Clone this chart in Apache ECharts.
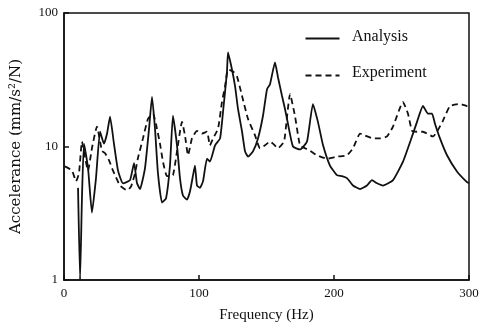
<!DOCTYPE html>
<html>
<head>
<meta charset="utf-8">
<script src="https://cdn.jsdelivr.net/npm/echarts@6/dist/echarts.min.js"></script>
<style>
html,body{margin:0;padding:0;background:#fff;}
#chart{width:484px;height:328px;}
</style>
</head>
<body>
<div id="chart"></div>
<script>
// Analysis (solid)
const analysisFreq = [10.4, 11.9, 13.3, 14.8, 17.8, 20.7, 23.7, 26.7, 29.6, 31.9, 34.1, 37, 40, 43.7, 48.9, 51.9, 54.1, 56.3, 60, 63, 65.2, 67.4, 69.6, 72.6, 75.6, 78.5, 80.7, 83.7, 85.9, 88.1, 91.1, 93.3, 95.6, 97, 98.5, 100.7, 103, 105.9, 108.1, 111.9, 115.6, 117.8, 120.7, 121.5, 124.4, 126.7, 128.9, 131.9, 134.1, 136.3, 140, 143.7, 147.4, 150.4, 152.6, 156.3, 158.5, 161.5, 163.7, 165.9, 169.6, 174.8, 180, 184.4, 188.1, 191.9, 197, 202.2, 205.9, 209.6, 214.1, 219.3, 224.4, 228.1, 231.9, 236.3, 243.7, 251.1, 257.8, 261.5, 265.9, 269.6, 272.6, 274.8, 278.5, 283.7, 291.1, 298.5, 300];
const analysisAcc = [4.9, 1.0, 4.1, 10.5, 6.9, 3.2, 5.8, 12.9, 10.5, 12.5, 16.7, 10.5, 6.6, 5.3, 5.6, 7.5, 5.3, 4.8, 6.9, 13.6, 23.5, 13.6, 6.3, 3.8, 4.1, 7.2, 17, 10.2, 5.8, 4.3, 4.0, 4.6, 6.1, 7.2, 5.1, 4.9, 5.5, 8.1, 7.7, 10.2, 11.5, 18.2, 36, 50.6, 37.8, 28.3, 19.1, 12.9, 9.2, 8.4, 9.2, 11.5, 17, 26.9, 29.3, 42.6, 33, 23.9, 19.1, 14.8, 10, 9.5, 10.9, 20.8, 15.3, 10.2, 7.2, 6.1, 6.0, 5.8, 5.1, 4.8, 5.1, 5.6, 5.3, 5.1, 5.6, 7.7, 11.9, 15.3, 20.1, 17.6, 17.6, 14.8, 11.5, 8.6, 6.5, 5.4, 5.3];

// Experiment (dashed)
const experimentFreq = [0.7, 5.9, 8.9, 11.1, 13.3, 15.6, 17.8, 20.7, 24.4, 28.1, 30.4, 33.3, 36.3, 41.5, 46.7, 49.6, 52.6, 54.8, 58.5, 62.2, 65.9, 68.1, 71.1, 73.3, 76.3, 80.7, 83.7, 87.4, 89.6, 91.9, 94.8, 98.5, 102.2, 105.9, 108.1, 110.4, 114.1, 117, 119.3, 121.5, 125.2, 128.1, 131.9, 136.3, 141.5, 145.2, 148.9, 152.6, 154.8, 158.5, 163, 165.2, 167.4, 171.1, 174.8, 178.5, 182.2, 187.4, 194.8, 202.2, 209.6, 214.1, 219.3, 223, 228.9, 234.1, 239.3, 243.7, 251.1, 254.8, 257.8, 261.5, 265.9, 273.3, 276.3, 280.7, 285.9, 293.3, 298.5, 300];
const experimentAcc = [7.1, 6.6, 5.5, 6.3, 10.9, 8.2, 6.6, 9.7, 14.1, 9.3, 8.9, 7.9, 6.6, 5.1, 4.7, 5.0, 6.3, 8.2, 11.5, 16.1, 17.6, 14.8, 10.5, 7.7, 6.0, 6.1, 9.2, 15.3, 12.1, 8.6, 11.5, 13.1, 12.5, 12.9, 10.2, 11.5, 13.6, 21.5, 28.3, 37.8, 36.5, 33.6, 23.9, 16.1, 12.1, 9.7, 10.2, 10.9, 10.5, 9.7, 10.9, 16.7, 24.7, 16.9, 10.2, 9.7, 9.3, 8.6, 8.1, 8.4, 8.6, 9.7, 12.5, 12.1, 11.5, 11.5, 11.9, 14.1, 21.5, 17.6, 13.1, 12.9, 12.9, 11.9, 12.9, 15.6, 20.1, 20.8, 20.1, 20];

const xTicks = [0, 100, 200, 300];
const yTicks = [1, 10, 100];
const seriesNames = ['Analysis', 'Experiment'];

const pairs = (xs, ys) => xs.map((x, i) => [x, ys[i]]);
const FONT = 'Liberation Serif';
const INK = '#111';

const chart = echarts.init(document.getElementById('chart'), null, {renderer: 'canvas'});
chart.setOption({
  animation: false,
  backgroundColor: '#fff',
  textStyle: {fontFamily: FONT, color: INK},
  grid: {left: 64, right: 15, top: 13, bottom: 45, show: true, borderColor: INK, borderWidth: 1.5, backgroundColor: 'transparent'},
  graphic: [
    {type: 'line', left: 303, top: 36, shape: {x1: 0, y1: 0, x2: 34, y2: 0}, style: {stroke: INK, lineWidth: 1.8}},
    {type: 'text', left: 352, top: 29, style: {text: seriesNames[0], font: '16px "Liberation Serif"', fill: INK}},
    {type: 'line', left: 303, top: 73, shape: {x1: 0, y1: 0, x2: 34, y2: 0}, style: {stroke: INK, lineWidth: 1.8, lineDash: [6, 4]}},
    {type: 'text', left: 352, top: 65, style: {text: seriesNames[1], font: '16px "Liberation Serif"', fill: INK}}
  ],
  xAxis: {
    type: 'value', min: xTicks[0], max: xTicks[xTicks.length - 1], interval: 100,
    name: 'Frequency (Hz)', nameLocation: 'middle', nameGap: 28,
    nameTextStyle: {fontFamily: FONT, fontSize: 15, color: INK},
    axisLine: {lineStyle: {color: INK, width: 1.5}},
    axisTick: {inside: true, length: 5, lineStyle: {color: INK, width: 1.5}},
    axisLabel: {fontFamily: FONT, fontSize: 13, color: INK, margin: 7},
    splitLine: {show: false}
  },
  yAxis: {
    type: 'log', logBase: 10, min: yTicks[0], max: yTicks[yTicks.length - 1],
    name: 'Accelerance (mm/s²/N)', nameLocation: 'middle', nameGap: 40,
    nameTextStyle: {fontFamily: 'DejaVu Serif', fontSize: 15, color: INK},
    axisLine: {lineStyle: {color: INK, width: 1.5}},
    axisTick: {inside: true, length: 5, lineStyle: {color: INK, width: 1.5}},
    axisLabel: {fontFamily: FONT, fontSize: 13, color: INK, margin: 6},
    splitLine: {show: false},
    minorTick: {show: false}
  },
  series: [
    {
      name: seriesNames[0], type: 'line', data: pairs(analysisFreq, analysisAcc),
      showSymbol: false, symbol: 'none', smooth: 0.15,
      lineStyle: {color: INK, width: 1.8, type: 'solid'},
      itemStyle: {color: INK}
    },
    {
      name: seriesNames[1], type: 'line', data: pairs(experimentFreq, experimentAcc),
      showSymbol: false, symbol: 'none', smooth: 0.15,
      lineStyle: {color: INK, width: 1.8, type: [6, 4]},
      itemStyle: {color: INK}
    }
  ]
});
</script>
</body>
</html>
